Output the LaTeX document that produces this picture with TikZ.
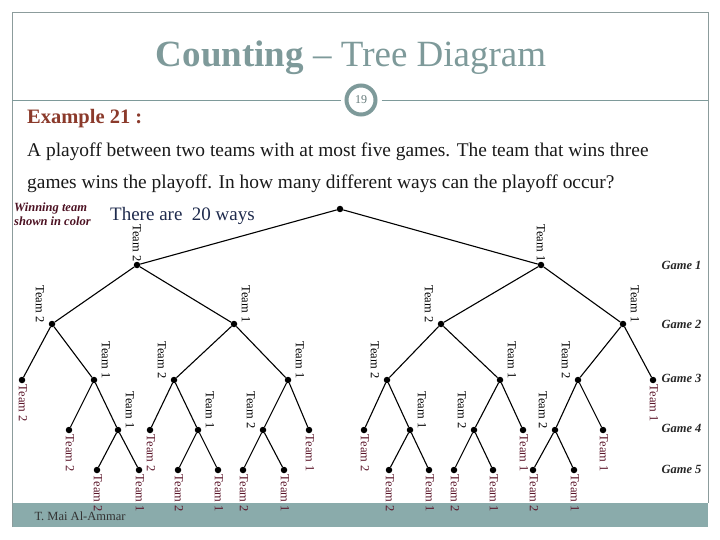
\documentclass[tikz,border=0pt]{standalone}
\usepackage{fontspec}
\setmainfont{Liberation Serif}
\usetikzlibrary{positioning}
\definecolor{slate}{HTML}{7E9A9A}
\definecolor{framegray}{HTML}{8C9C9C}
\definecolor{footteal}{HTML}{8AABAB}
\definecolor{exbrown}{HTML}{8B3A2B}
\definecolor{navy}{HTML}{1F2B4D}
\definecolor{winred}{HTML}{5A1428}

\begin{document}
\begin{tikzpicture}[x=1pt,y=-1pt,
	dot/.style={circle,fill=black,inner sep=0pt,minimum size=6.5pt},
	branch/.style={line width=1.1pt},
	tlab/.style={rotate=-90,inner sep=0.5pt,font=\fontsize{12.5}{13}\selectfont},
	lab-a/.style={yshift=3pt,tlab,anchor=east},
	lab-l/.style={xshift=-12pt,yshift=1pt,tlab,anchor=east},
	lab-r/.style={xshift=12pt,yshift=1pt,tlab,anchor=east},
	lab-w/.style={xshift=1pt,yshift=-4pt,tlab,anchor=west,text=winred},
	game/.style={anchor=east,text=black!85,font=\fontsize{12.5}{13}\selectfont\bfseries\itshape},
	body/.style={anchor=base west,inner sep=0pt,text=black!90,font=\fontsize{19.4}{20}\selectfont}]
	\useasboundingbox (0,0) rectangle (720,540);

	\fill[footteal] (12,503) rectangle (708,527);
	\draw[framegray] (12,527) -- (12,12) -- (708,12) -- (708,503);
	\node[circle,draw=slate,line width=4pt,fill=white,minimum size=29pt,inner sep=0pt,text=slate!80!black,font=\fontsize{12}{12}\selectfont] (page) at (361,100) {19};
	\draw[slate,line width=0.9pt] (12,100) -- ([xshift=-4pt]page.west);
	\draw[slate,line width=0.9pt] ([xshift=4pt]page.east) -- (708,100);
	\node[anchor=west,text=black!80,font=\fontsize{12.5}{13}\selectfont] (author) at (31,516) {T. Mai Al-Ammar};

	\node[anchor=base,text=slate,font=\fontsize{37}{40}\selectfont] (title) at (351,67) {\textbf{Counting} -- Tree Diagram};
	\node[anchor=base west,inner sep=0pt,text=exbrown,font=\fontsize{20.5}{21}\selectfont\bfseries] (example) at (27,124) {Example 21 :};
	\node[body] (q1) at (27,157) {A playoff between two teams with at most five games. The team that wins three};
	\node[body,below=32pt of q1.base west,anchor=base west] (q2) {games wins the playoff. In how many different ways can the playoff occur?};
	\node[anchor=north west,inner sep=0pt,align=left,text=winred!85!black,font=\fontsize{12.5}{14}\selectfont\bfseries\itshape] (note) at (14,203) {Winning team\\shown in color};
	\node[anchor=base west,inner sep=0pt,text=navy,font=\fontsize{19}{20}\selectfont] (ways) at (110,221) {There are\ \ 20 ways};

	\node[dot] (r) at (340,209) {};
	\foreach \n/\p/\x/\y/\w/\s in {
		t2/r/137/265/2/a, t1/r/541/265/1/a,
		t22/t2/52/324/2/l, t21/t2/234/324/1/r, t12/t1/441/324/2/l, t11/t1/623/324/1/r,
		t222/t22/22/380/2/w, t221/t22/94/380/1/r, t212/t21/174/380/2/l, t211/t21/288/380/1/r,
		t122/t12/387/380/2/l, t121/t12/500/380/1/r, t112/t11/578/380/2/l, t111/t11/653/380/1/w,
		t2212/t221/69/430/2/w, t2211/t221/118/430/1/r, t2122/t212/150/430/2/w, t2121/t212/198/430/1/r,
		t2112/t211/263/430/2/l, t2111/t211/309/430/1/w, t1222/t122/364/430/2/w, t1221/t122/410/430/1/r,
		t1212/t121/474/430/2/l, t1211/t121/523/430/1/w, t1122/t112/555/430/2/l, t1121/t112/603/430/1/w,
		t22112/t2211/97/470/2/w, t22111/t2211/139/470/1/w, t21212/t2121/178/470/2/w, t21211/t2121/218/470/1/w,
		t21122/t2112/243/470/2/w, t21121/t2112/284/470/1/w, t12212/t1221/389/470/2/w, t12211/t1221/429/470/1/w,
		t12122/t1212/454/470/2/w, t12121/t1212/493/470/1/w, t11222/t1122/533/470/2/w, t11221/t1122/574/470/1/w}{
		\node[dot] (\n) at (\x,\y) {};
		\draw[branch] (\p) -- (\n);
		\node[lab-\s] (l\n) at (\n) {Team \w};
	}

	\foreach \g/\y in {1/265,2/324,3/378,4/428,5/469}
		\node[game] (game\g) at (705,\y) {Game \g};
\end{tikzpicture}
\end{document}
